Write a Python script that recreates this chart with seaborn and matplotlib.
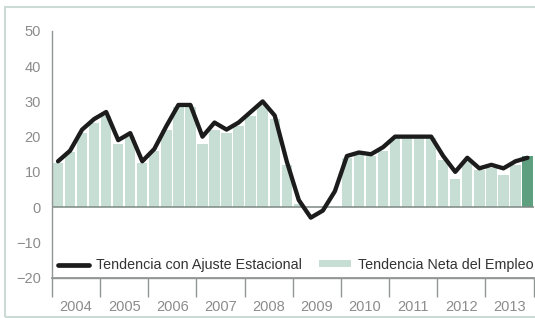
import numpy as np
import pandas as pd
import matplotlib
matplotlib.use("Agg")
import matplotlib.pyplot as plt
import seaborn as sns
from matplotlib.lines import Line2D
from matplotlib.patches import Patch, Rectangle

# quarterly series 2004-2013
years = ["2004", "2005", "2006", "2007", "2008", "2009", "2010", "2011", "2012", "2013"]
ajuste_estacional = [13, 16, 22, 25, 27, 19, 21, 13, 16.5, 23, 29, 29,
                     20, 24, 22, 24, 27, 30, 26, 13, 2, -3, -1, 4.5,
                     14.5, 15.5, 15, 17, 20, 20, 20, 20, 14.5, 10, 14, 11,
                     12, 11, 13, 14]
neta_empleo = [12.5, 15.5, 21, 24, 26, 18, 20, 12.5, 16, 22, 28.5, 28.5,
               18, 22, 21, 23, 26, 29, 25, 12, 1, 0, 0, 0,
               14, 15, 14.5, 16, 19.5, 19.5, 19.5, 19.5, 13.5, 8, 13, 10.5,
               11, 9, 12, 14.5]
yticks = [-20, -10, 0, 10, 20, 30, 40, 50]

light = "#c6ded4"
dark = "#5e9f80"

sns.set_theme(style="white")
plt.rcParams["font.family"] = ["Liberation Sans", "DejaVu Sans"]

periodos = [f"{y}T{q}" for y in years for q in range(1, 5)]
df = pd.DataFrame({
    "q": np.arange(len(periodos)),
    "periodo": periodos,
    "neta": neta_empleo,
    "ajuste": ajuste_estacional,
})
pal = {p: light for p in periodos}
pal[periodos[-1]] = dark

fig = plt.figure(figsize=(5.35, 3.18), dpi=100)
ax = fig.add_axes([52 / 535, 1 - 277.5 / 318, 481.5 / 535, 246.5 / 318])

sns.barplot(data=df, x="q", y="neta", hue="periodo", palette=pal, native_scale=True,
            dodge=False, legend=False, width=0.86, linewidth=0, saturation=1, ax=ax)
ax.axhline(0, color="#7d8784", lw=1.1, zorder=2)
sns.lineplot(data=df, x="q", y="ajuste", color="#1c1c1c", lw=3.1, ax=ax, zorder=3)

ax.set_xlim(-0.5, len(periodos) - 0.5)
ax.set_ylim(-20, 50)
ax.set_xlabel("")
ax.set_ylabel("")

for s in ["top", "right"]:
    ax.spines[s].set_visible(False)
for s in ["left", "bottom"]:
    ax.spines[s].set_color("#8f9693")
    ax.spines[s].set_linewidth(1)

ax.set_yticks(yticks)
ax.tick_params(axis="y", direction="out", length=7, width=1, color="#8f9693",
               labelcolor="#8c8c8c", labelsize=10.5, pad=1)

# year labels centred, quarter ticks as minor
n_years = len(years)
ax.set_xticks(np.arange(n_years) * 4 + 1.5, years)
ax.set_xticks(np.arange(len(periodos) + 1) - 0.5, minor=True)
ax.tick_params(axis="x", which="major", length=0, labelcolor="#8c8c8c", labelsize=10.5, pad=16)
ax.tick_params(axis="x", which="minor", direction="out", length=4, width=1, color="#8f9693")

sec = ax.secondary_xaxis(location=0)
sec.set_xticks(np.arange(n_years + 1) * 4 - 0.5, [""] * (n_years + 1))
sec.tick_params(direction="out", length=14, width=1, color="#8f9693")
sec.spines["bottom"].set_color("#8f9693")

handles = [Line2D([], [], color="#1c1c1c", lw=3.4),
           Patch(facecolor=light, edgecolor="none")]
ax.legend(handles, ["Tendencia con Ajuste Estacional", "Tendencia Neta del Empleo"],
          loc="lower left", ncol=2, frameon=False, fontsize=10.3, handlelength=2.2,
          handleheight=0.35, handletextpad=0.5, columnspacing=1.2,
          borderaxespad=0.3, borderpad=0.1, labelcolor="#333333")

fig.patches.append(Rectangle((5 / 535, 1.5 / 318), 0.995, 310 / 318, transform=fig.transFigure,
                             fill=False, edgecolor="#cddbd6", lw=1.5))

fig.savefig("out.png", dpi=100)
